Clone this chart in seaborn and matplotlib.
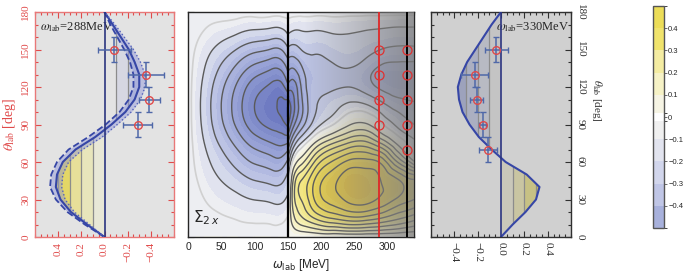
import numpy as np
import matplotlib
matplotlib.use("Agg")
import matplotlib.pyplot as plt
import matplotlib.tri as mtri
from matplotlib.colors import LinearSegmentedColormap, ListedColormap, BoundaryNorm, to_rgb
from matplotlib.colorbar import ColorbarBase
from matplotlib.path import Path
from matplotlib.ticker import MultipleLocator
import seaborn as sns

sns.set_style("ticks")
plt.rcParams["font.family"] = ["Liberation Serif", "DejaVu Serif"]
plt.rcParams["mathtext.fontset"] = "stix"
plt.rcParams["contour.negative_linestyle"] = "solid"

# ── Sigma_2x map (rows = theta, columns = omega) ──
THETA_GRID = [0, 15, 30, 45, 60, 75, 90, 105, 120, 135, 150, 165, 180]

OMEGA_BELOW = [0, 12, 25, 50, 75, 100, 125, 140, 150]
SIGMA_BELOW = [
    [0, 0, 0, 0, 0, 0, 0, 0, 0],
    [0, -0.002, -0.004, -0.009, -0.014, -0.018, -0.020, -0.020, -0.010],
    [0, -0.005, -0.012, -0.026, -0.039, -0.051, -0.058, -0.060, -0.040],
    [0, -0.010, -0.023, -0.050, -0.076, -0.099, -0.112, -0.110, -0.080],
    [0, -0.016, -0.036, -0.078, -0.120, -0.156, -0.177, -0.180, -0.140],
    [0, -0.022, -0.051, -0.110, -0.168, -0.219, -0.248, -0.260, -0.250],
    [0, -0.028, -0.065, -0.140, -0.214, -0.279, -0.316, -0.330, -0.360],
    [0, -0.030, -0.070, -0.150, -0.230, -0.300, -0.340, -0.360, -0.380],
    [0, -0.028, -0.064, -0.138, -0.212, -0.276, -0.313, -0.320, -0.270],
    [0, -0.022, -0.050, -0.108, -0.166, -0.216, -0.245, -0.240, -0.190],
    [0, -0.014, -0.032, -0.068, -0.104, -0.135, -0.153, -0.150, -0.110],
    [0, -0.005, -0.013, -0.027, -0.041, -0.054, -0.061, -0.060, -0.040],
    [0, 0, 0, 0, 0, 0, 0, 0, 0],
]

OMEGA_ABOVE = [150, 158, 170, 190, 215, 240, 265, 290, 315, 340]
SIGMA_ABOVE = [
    [0, 0, 0, 0, 0, 0, 0, 0, 0, 0],
    [-0.01, 0.08, 0.14, 0.20, 0.25, 0.28, 0.28, 0.25, 0.21, 0.17],
    [-0.04, 0.12, 0.20, 0.30, 0.37, 0.41, 0.42, 0.39, 0.34, 0.30],
    [-0.08, 0.10, 0.20, 0.30, 0.38, 0.43, 0.43, 0.40, 0.36, 0.31],
    [-0.14, 0.00, 0.08, 0.20, 0.30, 0.36, 0.37, 0.34, 0.20, 0.06],
    [-0.25, -0.14, -0.05, 0.05, 0.14, 0.20, 0.22, 0.15, 0.04, -0.04],
    [-0.36, -0.27, -0.18, -0.08, -0.02, 0.04, 0.06, 0.00, -0.06, -0.10],
    [-0.38, -0.32, -0.22, -0.11, -0.07, -0.04, -0.04, -0.08, -0.12, -0.14],
    [-0.27, -0.28, -0.20, -0.12, -0.11, -0.10, -0.12, -0.16, -0.18, -0.18],
    [-0.19, -0.20, -0.16, -0.12, -0.11, -0.10, -0.12, -0.16, -0.17, -0.17],
    [-0.11, -0.12, -0.10, -0.09, -0.08, -0.07, -0.08, -0.10, -0.11, -0.11],
    [-0.04, -0.05, -0.05, -0.05, -0.045, -0.045, -0.05, -0.055, -0.06, -0.06],
    [0, 0, 0, 0, 0, 0, 0, 0, 0, 0],
]

# ── angular distributions at fixed energies ──
THETA_CURVE = [0, 10, 20, 30, 40, 50, 60, 70, 80, 90, 100, 110, 120, 130, 140, 150, 160, 170, 180]
SIGMA_288 = [0, 0.15, 0.29, 0.38, 0.42, 0.41, 0.36, 0.25, 0.08, -0.06, -0.18, -0.26, -0.30,
             -0.30, -0.26, -0.21, -0.14, -0.07, 0]
SIGMA_288_DASH = [0, 0.17, 0.32, 0.42, 0.47, 0.46, 0.41, 0.31, 0.14, -0.01, -0.13, -0.21, -0.25,
                  -0.25, -0.22, -0.17, -0.11, -0.05, 0]
SIGMA_288_DOT = [0, 0.13, 0.26, 0.34, 0.37, 0.36, 0.31, 0.19, 0.02, -0.11, -0.23, -0.31, -0.35,
                 -0.35, -0.31, -0.25, -0.17, -0.09, 0]
SIGMA_330 = [0, 0.10, 0.21, 0.30, 0.33, 0.22, 0.04, -0.08, -0.19, -0.27, -0.33, -0.36, -0.37,
             -0.34, -0.29, -0.22, -0.15, -0.08, 0]

# ── measured points ──
OMEGA_288 = 288
DATA_288_THETA = [90, 110, 130, 150]
DATA_288_SIGMA = [-0.285, -0.386, -0.357, -0.084]
DATA_288_ERR = [0.125, 0.09, 0.157, 0.144]
OMEGA_330 = 330
DATA_330_THETA = [70, 90, 110, 130, 150]
DATA_330_SIGMA = [-0.113, -0.156, -0.21, -0.227, -0.04]
DATA_330_ERR = [0.077, 0.03, 0.057, 0.113, 0.10]
THETA_ERR = 10
OMEGA_THRESHOLD = 150

SIDE_XTICKS = [-0.4, -0.2, 0.0, 0.2, 0.4]
THETA_TICKS = [0, 30, 60, 90, 120, 150, 180]
OMEGA_TICKS = [0, 50, 100, 150, 200, 250, 300]
CBAR_TICKS = [-0.4, -0.3, -0.2, -0.1, 0, 0.1, 0.2, 0.3, 0.4]
CBAR_LABELS = ["\u22120.4", "\u22120.3", "\u22120.2", "\u22120.1", "0", "0.1", "0.2", "0.3", "0.4"]

# ── style ──
RED = "#e04a4a"
CURVE = "#3646a6"
STRIPE_EDGES = [-0.5, -0.4, -0.3, -0.2, -0.1, 0.0, 0.1, 0.2, 0.3, 0.4, 0.5]
STRIPE_COLORS = ["#a8b1dc", "#c0c6e6", "#d2d6ec", "#e2e4ef", "#f0f0f0",
                 "#f6f4e4", "#f6f2c6", "#f4eca2", "#f0e36c", "#ecdd58"]
CBAR_BOUNDS = [-0.5, -0.4, -0.3, -0.2, -0.1, -0.018, 0.018, 0.1, 0.2, 0.3, 0.4, 0.5]
CBAR_COLORS = STRIPE_COLORS[:5] + ["#ffffff"] + STRIPE_COLORS[5:]
FIELD_CMAP = LinearSegmentedColormap.from_list("field", [
    (0.0, "#4452a8"), (0.1, "#5a68b8"), (0.2, "#7c88c8"), (0.3, "#9ca6d8"),
    (0.4, "#c0c7e6"), (0.5, "#f4f4f4"), (0.6, "#f7f2c0"), (0.7, "#f3e88a"),
    (0.8, "#eedc5e"), (0.9, "#e5c948"), (1.0, "#d8b038")])
SHADE_CMAP = LinearSegmentedColormap.from_list("shade", [(0.5, 0.5, 0.5, 0.0), (0.5, 0.5, 0.5, 0.8)])
FILL_LEVELS = np.linspace(-0.5, 0.5, 41)
LINE_LEVELS = [-0.4, -0.35, -0.3, -0.25, -0.2, -0.15, -0.1, -0.05,
               0.05, 0.1, 0.15, 0.2, 0.25, 0.3, 0.35, 0.4, 0.45]

W, H = 684, 274
fig = plt.figure(figsize=(W / 100, H / 100), dpi=100)


def px_axes(x0, y0, x1, y1):
    return fig.add_axes([x0 / W, 1 - y1 / H, (x1 - x0) / W, (y1 - y0) / H])


def grid_triangulation(xs, ys):
    X, Y = np.meshgrid(xs, ys)
    nx = len(xs)
    tris = []
    for j in range(len(ys) - 1):
        for i in range(nx - 1):
            a = j * nx + i
            tris += [[a, a + 1, a + nx + 1], [a, a + nx + 1, a + nx]]
    return mtri.Triangulation(X.ravel(), Y.ravel(), tris)


def draw_stripes(ax, sigma, tint):
    """Colour bands between 0 and the curve, clipped to the area under it."""
    bg = np.array(to_rgb(ax.get_facecolor()))
    region = ax.fill_betweenx(THETA_CURVE, 0, sigma, facecolor="none", edgecolor="none")
    clip = Path.make_compound_path(*region.get_paths())
    for lo, hi, col in zip(STRIPE_EDGES[:-1], STRIPE_EDGES[1:], STRIPE_COLORS):
        c = np.array(to_rgb(col))
        rgb = (1 - tint) * bg * c + tint * c
        span = ax.axvspan(lo, hi, facecolor=rgb, edgecolor="none", zorder=1)
        span.set_clip_path(clip, ax.transData)
    for v in STRIPE_EDGES[1:-1]:
        if v == 0:
            continue
        line = ax.axvline(v, color="#8c8c8c", lw=0.9, zorder=2)
        line.set_clip_path(clip, ax.transData)


def side_ticks(ax, color, rot):
    ax.set_ylim(0, 180)
    ax.set_yticks(THETA_TICKS, labels=[str(t) for t in THETA_TICKS], rotation=rot, va="center")
    xlabels = [f"{v:.1f}".replace("-", "\u2212") for v in SIDE_XTICKS]
    ax.set_xticks(SIDE_XTICKS, labels=xlabels, rotation=rot)
    ax.xaxis.set_minor_locator(MultipleLocator(0.05))
    ax.yaxis.set_minor_locator(MultipleLocator(10))
    ax.tick_params(which="both", direction="in", top=True, right=True, left=True,
                   color=color, labelcolor=color, labelsize=8, width=0.8)
    ax.tick_params(which="major", length=4)
    ax.tick_params(which="minor", length=2)
    for sp in ax.spines.values():
        sp.set_color(color)
        sp.set_linewidth(1.0)


# ── left panel: 288 MeV ──
ax_l = px_axes(35, 12, 174, 237)
ax_l.set_facecolor("#e3e3e3")
draw_stripes(ax_l, SIGMA_288, tint=0.5)
ax_l.fill_betweenx(THETA_CURVE, SIGMA_288_DOT, SIGMA_288_DASH, color="#8c93d8", alpha=0.45, lw=0, zorder=3)
sns.lineplot(x=SIGMA_288, y=THETA_CURVE, orient="y", ax=ax_l, color=CURVE, lw=1.5, zorder=4)
sns.lineplot(x=SIGMA_288_DASH, y=THETA_CURVE, orient="y", ax=ax_l, color=CURVE, lw=1.3, linestyle="--", zorder=4)
sns.lineplot(x=SIGMA_288_DOT, y=THETA_CURVE, orient="y", ax=ax_l, color="#5562bb", lw=1.0, linestyle=":", zorder=4)
ax_l.axvline(0, color="#2c3580", lw=1.2, zorder=4)
ax_l.errorbar(DATA_288_SIGMA, DATA_288_THETA, xerr=DATA_288_ERR, yerr=THETA_ERR, fmt="o",
              mfc="none", mec=RED, ms=5.5, mew=1.0, ecolor="#4f68a8", elinewidth=1.1,
              capsize=2, capthick=1.1, zorder=5)
ax_l.set_xlim(0.6, -0.6)
side_ticks(ax_l, RED, 90)
for sp in ax_l.spines.values():
    sp.set_color("#e87878")
ax_l.set_xlabel("")
ax_l.set_ylabel("")
ax_l.text(0.035, 0.935, r"$\omega_{\mathrm{lab}}$=288MeV", transform=ax_l.transAxes, fontsize=9, va="center")
fig.text(10 / W, 1 - 125 / H, r"$\theta_{\mathrm{lab}}$ [deg]", rotation=90, color=RED,
         fontsize=10, ha="center", va="center")

# ── middle panel: map ──
ax_m = px_axes(188, 12, 414, 237)
norm = plt.Normalize(-0.5, 0.5)
for omega, sigma in [(OMEGA_BELOW, SIGMA_BELOW), (OMEGA_ABOVE, SIGMA_ABOVE)]:
    tri = grid_triangulation(omega, THETA_GRID)
    tri_f, z_f = mtri.UniformTriRefiner(tri).refine_field(np.ravel(sigma), subdiv=4)
    ax_m.tricontourf(tri_f, z_f, levels=FILL_LEVELS, cmap=FIELD_CMAP, norm=norm, zorder=1)
    ax_m.tricontour(tri_f, z_f, levels=LINE_LEVELS, colors="#5a5a5a", linewidths=1.0, zorder=2)
    ax_m.tricontour(tri_f, z_f, levels=[-0.012], colors="#d0d0d0", linewidths=1.2, zorder=2)
ax_m.imshow(np.linspace(0, 1, 256)[None, :], extent=[175, 340, 0, 180], cmap=SHADE_CMAP,
            aspect="auto", interpolation="bilinear", zorder=3)
ax_m.axvline(OMEGA_THRESHOLD, color="black", lw=1.6, zorder=4)
ax_m.axvline(OMEGA_288, color="#e02828", lw=1.3, zorder=4)
ax_m.axvline(OMEGA_330, color="black", lw=1.4, zorder=4)
ax_m.plot([OMEGA_288] * len(DATA_288_THETA), DATA_288_THETA, "o", mfc="none", mec="#e03030",
          ms=6.5, mew=0.9, zorder=5)
ax_m.plot([OMEGA_330] * len(DATA_330_THETA), DATA_330_THETA, "o", mfc="none", mec="#e03030",
          ms=6.5, mew=0.9, zorder=5)
ax_m.text(8, 12, r"$\Sigma_{2\,x}$", fontsize=11, math_fontfamily="dejavusans", zorder=6)
ax_m.set_xlim(0, 340)
ax_m.set_ylim(0, 180)
ax_m.set_xticks(OMEGA_TICKS)
ax_m.set_yticks(THETA_TICKS, labels=[])
ax_m.xaxis.set_minor_locator(MultipleLocator(10))
ax_m.yaxis.set_minor_locator(MultipleLocator(10))
ax_m.tick_params(which="both", direction="in", top=True, right=True, width=0.8,
                 labelsize=7.5, labelfontfamily="Liberation Sans")
ax_m.tick_params(which="major", length=4)
ax_m.tick_params(which="minor", length=2)
for sp in ax_m.spines.values():
    sp.set_linewidth(1.0)
fig.text(301 / W, 1 - 265 / H, r"$\omega_{\mathsf{lab}}$ [MeV]", fontsize=8.5, ha="center",
         va="center", family="Liberation Sans", math_fontfamily="dejavusans")

# ── right panel: 330 MeV ──
ax_r = px_axes(431, 12, 571, 237)
ax_r.set_facecolor("#d0d0d0")
draw_stripes(ax_r, SIGMA_330, tint=0.0)
sns.lineplot(x=SIGMA_330, y=THETA_CURVE, orient="y", ax=ax_r, color=CURVE, lw=1.5, zorder=4)
ax_r.axvline(0, color="#2c3580", lw=1.2, zorder=4)
ax_r.errorbar(DATA_330_SIGMA, DATA_330_THETA, xerr=DATA_330_ERR, yerr=THETA_ERR, fmt="o",
              mfc="none", mec=RED, ms=5.5, mew=1.0, ecolor="#4f68a8", elinewidth=1.1,
              capsize=2, capthick=1.1, zorder=5)
ax_r.set_xlim(-0.6, 0.6)
side_ticks(ax_r, "#303030", -90)
ax_r.yaxis.tick_right()
ax_r.tick_params(which="both", left=True, right=True)
ax_r.set_xlabel("")
ax_r.set_ylabel("")
ax_r.text(0.985, 0.935, r"$\omega_{\mathrm{lab}}$=330MeV", transform=ax_r.transAxes, fontsize=9,
          ha="right", va="center")
fig.text(597 / W, 1 - 100 / H, r"$\theta_{\mathrm{lab}}$ [deg]", rotation=-90, color="#303030",
         fontsize=8, ha="center", va="center")

# ── colour bar ──
ax_c = px_axes(653, 6, 664, 228)
cb = ColorbarBase(ax_c, cmap=ListedColormap(CBAR_COLORS),
                  norm=BoundaryNorm(CBAR_BOUNDS, len(CBAR_COLORS)),
                  spacing="proportional", ticks=CBAR_TICKS)
cb.set_ticklabels(CBAR_LABELS)
cb.outline.set_edgecolor("#555555")
cb.outline.set_linewidth(1.0)
ax_c.tick_params(length=2, width=0.6, color="#555555", labelsize=5.5, pad=1,
                 labelfontfamily="Liberation Sans")

fig.savefig("out.png", dpi=100)
